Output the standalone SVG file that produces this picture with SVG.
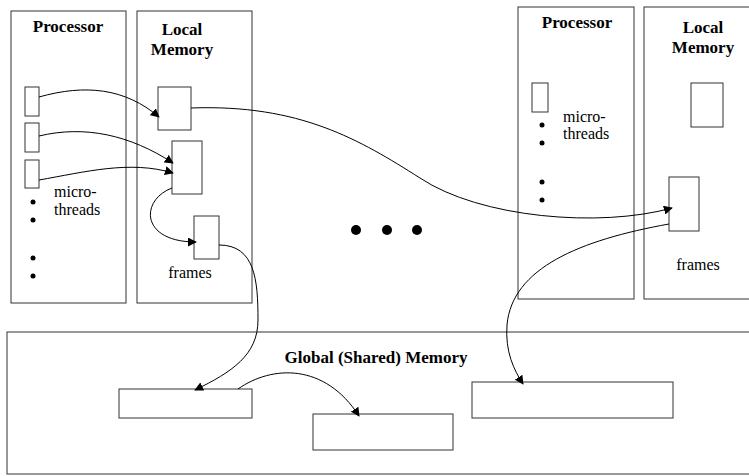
<svg xmlns="http://www.w3.org/2000/svg" width="749" height="476" viewBox="0 0 749 476">
  <defs>
    <marker id="arrow" viewBox="0 0 10 10" refX="9" refY="5" markerWidth="9" markerHeight="9" markerUnits="userSpaceOnUse" orient="auto">
      <path d="M0,0 L10,5 L0,10 z" fill="#000"/>
    </marker>
    <style>
      .box { fill: #fff; stroke: #333; stroke-width: 1; }
      .title { font-weight: bold; font-size: 17px; fill: #000; text-anchor: middle; }
      .label { font-size: 16px; fill: #000; }
      .dot { fill: #000; }
      .conn { fill: none; stroke: #000; stroke-width: 1; marker-end: url(#arrow); }
    </style>
  </defs>
  <rect width="749" height="476" fill="#fff"/>

  <g font-family="Liberation Serif, Times New Roman, serif">
  <!-- Left node: processor with micro-threads -->
  <g id="processor-1">
    <rect class="box" x="11" y="11" width="115" height="292"/>
    <text class="title" x="68" y="32">Processor</text>
    <rect class="box" x="25" y="87" width="14" height="29"/>
    <rect class="box" x="25" y="123" width="14" height="29"/>
    <rect class="box" x="25" y="160" width="14" height="28"/>
    <text class="label" x="54" y="197">micro-</text>
    <text class="label" x="54" y="215">threads</text>
    <circle class="dot" cx="33" cy="202" r="2.5"/>
    <circle class="dot" cx="33" cy="220" r="2.5"/>
    <circle class="dot" cx="33" cy="258" r="2.5"/>
    <circle class="dot" cx="33" cy="276" r="2.5"/>
  </g>

  <!-- Left node: local memory with frames -->
  <g id="local-memory-1">
    <rect class="box" x="137" y="11" width="115" height="292"/>
    <text class="title" x="182" y="35">Local</text>
    <text class="title" x="182" y="55">Memory</text>
    <rect class="box" x="158" y="87" width="33" height="43"/>
    <rect class="box" x="172" y="141" width="30" height="53"/>
    <rect class="box" x="194" y="216" width="25" height="43"/>
    <text class="label" x="190" y="278" text-anchor="middle">frames</text>
  </g>

  <!-- Ellipsis between nodes -->
  <g id="ellipsis">
    <circle class="dot" cx="356" cy="230" r="5"/>
    <circle class="dot" cx="387" cy="230" r="5"/>
    <circle class="dot" cx="417" cy="230" r="5"/>
  </g>

  <!-- Right node: processor -->
  <g id="processor-n">
    <rect class="box" x="518" y="7" width="116" height="292"/>
    <text class="title" x="577" y="28">Processor</text>
    <rect class="box" x="532" y="83" width="16" height="29"/>
    <text class="label" x="563" y="122">micro-</text>
    <text class="label" x="563" y="139">threads</text>
    <circle class="dot" cx="542" cy="125" r="2.5"/>
    <circle class="dot" cx="542" cy="143" r="2.5"/>
    <circle class="dot" cx="542" cy="182" r="2.5"/>
    <circle class="dot" cx="542" cy="200" r="2.5"/>
  </g>

  <!-- Right node: local memory -->
  <g id="local-memory-n">
    <rect class="box" x="644" y="7" width="116" height="292"/>
    <text class="title" x="703" y="33">Local</text>
    <text class="title" x="703" y="53">Memory</text>
    <rect class="box" x="691" y="83" width="32" height="44"/>
    <rect class="box" x="669" y="177" width="30" height="54"/>
    <text class="label" x="698" y="270" text-anchor="middle">frames</text>
  </g>

  <!-- Global shared memory -->
  <g id="global-memory">
    <rect class="box" x="7" y="332" width="760" height="142"/>
    <text class="title" x="376" y="363">Global (Shared) Memory</text>
    <rect class="box" x="119" y="389" width="133" height="29"/>
    <rect class="box" x="313" y="414" width="140" height="36"/>
    <rect class="box" x="472" y="382" width="201" height="36"/>
  </g>
  </g>

  <!-- Connectors -->
  <g id="connectors">
    <path class="conn" d="M39,97 C85,84 125,88 159,117"/>
    <path class="conn" d="M39,136 C85,125 130,135 173,163"/>
    <path class="conn" d="M39,180 C85,172 130,160 173,173"/>
    <path class="conn" d="M172,188 C140,200 140,242 196,242"/>
    <path class="conn" d="M219,245 C255,245 258,280 258,320 C258,355 232,372 195,390"/>
    <path class="conn" d="M191,108 C300,104 360,140 420,178 C480,218 600,228 672,208"/>
    <path class="conn" d="M669,224 C580,240 512,268 507,325 C505,352 514,370 523,384"/>
    <path class="conn" d="M238,389 C272,365 325,363 359,416"/>
  </g>
</svg>
